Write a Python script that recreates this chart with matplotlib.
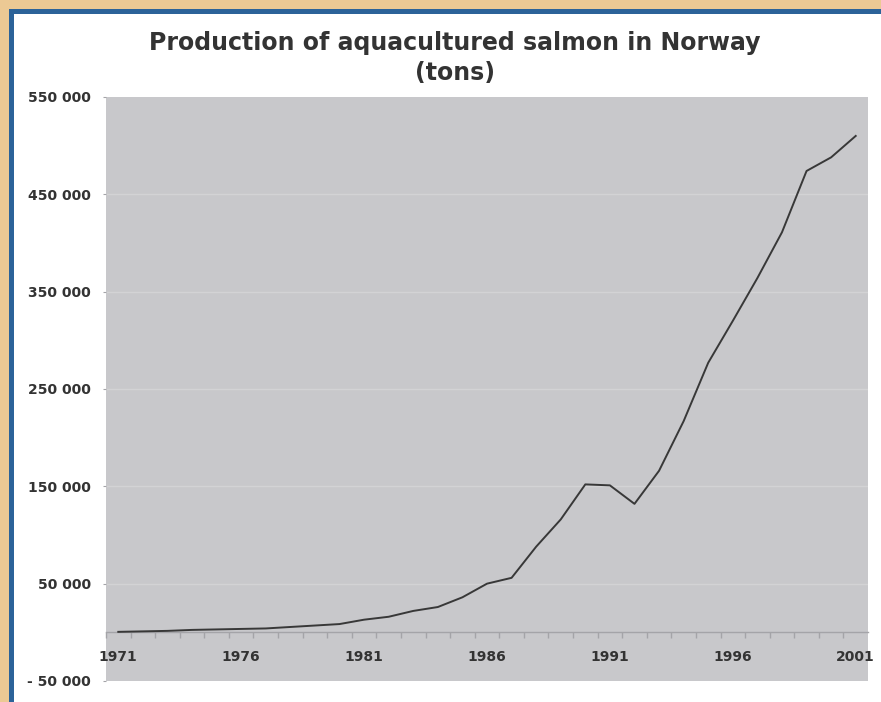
import matplotlib.pyplot as plt
from matplotlib.patches import Rectangle
from matplotlib.ticker import FixedLocator, FuncFormatter

# Norwegian farmed salmon output, tons per year
years = list(range(1971, 2002))
tons = [500, 1000, 1500, 2500, 3000, 3500, 4000, 5500, 7000, 8500,
        13000, 16000, 22000, 26000, 36000, 50000, 56000, 88000, 116000, 152000,
        151000, 132000, 166000, 217000, 277000, 320000, 364000, 411000, 474000, 488000,
        510000]

y_ticks = [-50000, 50000, 150000, 250000, 350000, 450000, 550000]
x_label_years = [1971, 1976, 1981, 1986, 1991, 1996, 2001]

W, H = 881, 702
fig = plt.figure(figsize=(W / 100, H / 100), dpi=100)
fig.patch.set_facecolor('#ecc994')

# blue frame and white card
fig.add_artist(Rectangle((9 / W, 0), 1, 1 - 9 / H, transform=fig.transFigure,
                         facecolor='#2c6399', edgecolor='none', zorder=0))
fig.add_artist(Rectangle((14 / W, 0), 1, 1 - 14 / H, transform=fig.transFigure,
                         facecolor='white', edgecolor='none', zorder=0))

left, right, top, bottom = 106, 868, 97, 681
ax = fig.add_axes([left / W, (H - bottom) / H, (right - left) / W, (bottom - top) / H])
ax.set_facecolor('#c8c8cb')

ax.plot(years, tons, color='#383838', lw=1.4, zorder=3, solid_joinstyle='round')

ax.set_xlim(1970.5, 2001.5)
ax.set_ylim(-50000, 550000)

# grid lines
for v in y_ticks[1:-1]:
    ax.axhline(v, color='#d3d3d5', lw=1, zorder=1)

for s in ['top', 'right', 'left']:
    ax.spines[s].set_visible(False)
ax.spines['bottom'].set_position(('data', 0))
ax.spines['bottom'].set_color('#a4a4a8')
ax.spines['bottom'].set_linewidth(1)

ax.xaxis.set_major_locator(FixedLocator(x_label_years))
ax.xaxis.set_minor_locator(FixedLocator([y + 0.5 for y in range(1970, 2001)]))
ax.tick_params(axis='x', which='major', length=0, pad=13,
               labelsize=10, labelcolor='#333333')
ax.tick_params(axis='x', which='minor', length=4, color='#a4a4a8', width=1)
for lbl in ax.get_xticklabels():
    lbl.set_fontweight('bold')

def fmt_tons(v, pos):
    s = f'{abs(int(v)):,}'.replace(',', ' ')
    return '- ' + s if v < 0 else s

ax.yaxis.set_major_locator(FixedLocator(y_ticks))
ax.yaxis.set_major_formatter(FuncFormatter(fmt_tons))
ax.tick_params(axis='y', length=2, color='#a4a4a8', pad=9,
               labelsize=10, labelcolor='#333333')
for lbl in ax.get_yticklabels():
    lbl.set_fontweight('bold')

fig.text(455 / W, 1 - 58 / H, 'Production of aquacultured salmon in Norway\n(tons)',
         ha='center', va='center', fontsize=17, fontweight='bold',
         color='#333333', linespacing=1.3)

fig.savefig('out.png', dpi=100)
